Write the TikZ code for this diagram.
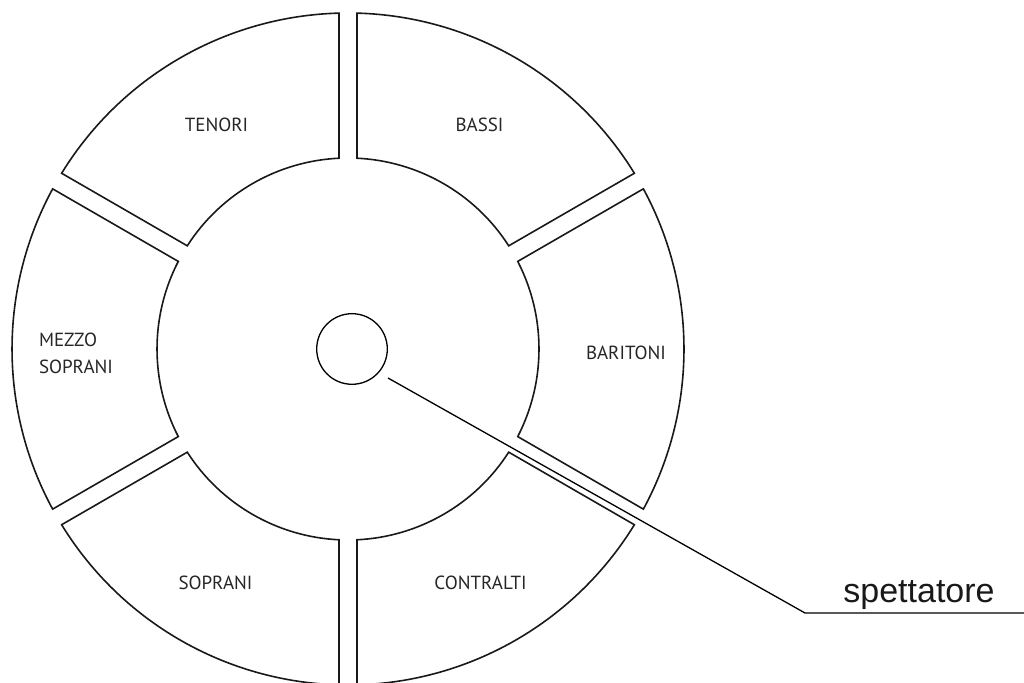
\documentclass[tikz,border=0pt]{standalone}
\usepackage{fontspec}
\setmainfont{PT Sans}
\newfontfamily\arialf{Liberation Sans}
\begin{document}
\begin{tikzpicture}[x=1pt,y=1pt,
  sector/.style={draw=black!90,line width=1.6pt,line join=miter},
  lbl/.style={font=\fontsize{19}{27}\selectfont,text=black!85,inner sep=0pt,align=left,yshift=-4pt},
  leader/.style={draw=black,line width=1.3pt}]
\useasboundingbox (0,0) rectangle (1024,682);
\begin{scope}[shift={(348,333)}]
  \foreach \a in {0,60,120,180,240,300}{
    \draw[sector] (\a-30+1.535:336) arc[start angle=\a-30+1.535, end angle=\a+30-1.535, radius=336]
      -- (\a+30-2.701:191) arc[start angle=\a+30-2.701, end angle=\a-30+2.701, radius=191] -- cycle;
  }
  \node[lbl] (bar) at (0:278) {BARITONI};
  \node[lbl] (bas) at (60:263) {BASSI};
  \node[lbl] (ten) at (120:263) {TENORI};
  \node[lbl] (mez) at (180:272) {MEZZO\\SOPRANI};
  \node[lbl] (sop) at (240:265) {SOPRANI};
  \node[lbl] (con) at (300:265) {CONTRALTI};
\end{scope}
\node[draw=black,line width=1.3pt,circle,minimum size=70.6pt,inner sep=0pt] (spec) at (352,333) {};
\coordinate (ls) at (388,304);
\coordinate (lk) at (805,69);
\coordinate (le) at (1024,69);
\draw[leader] (ls) -- (lk) -- (le);
\node[font=\arialf\fontsize{34}{40}\selectfont,text=black!90,anchor=base,inner sep=0pt] (spt) at (919,79) {spettatore};
\end{tikzpicture}
\end{document}
